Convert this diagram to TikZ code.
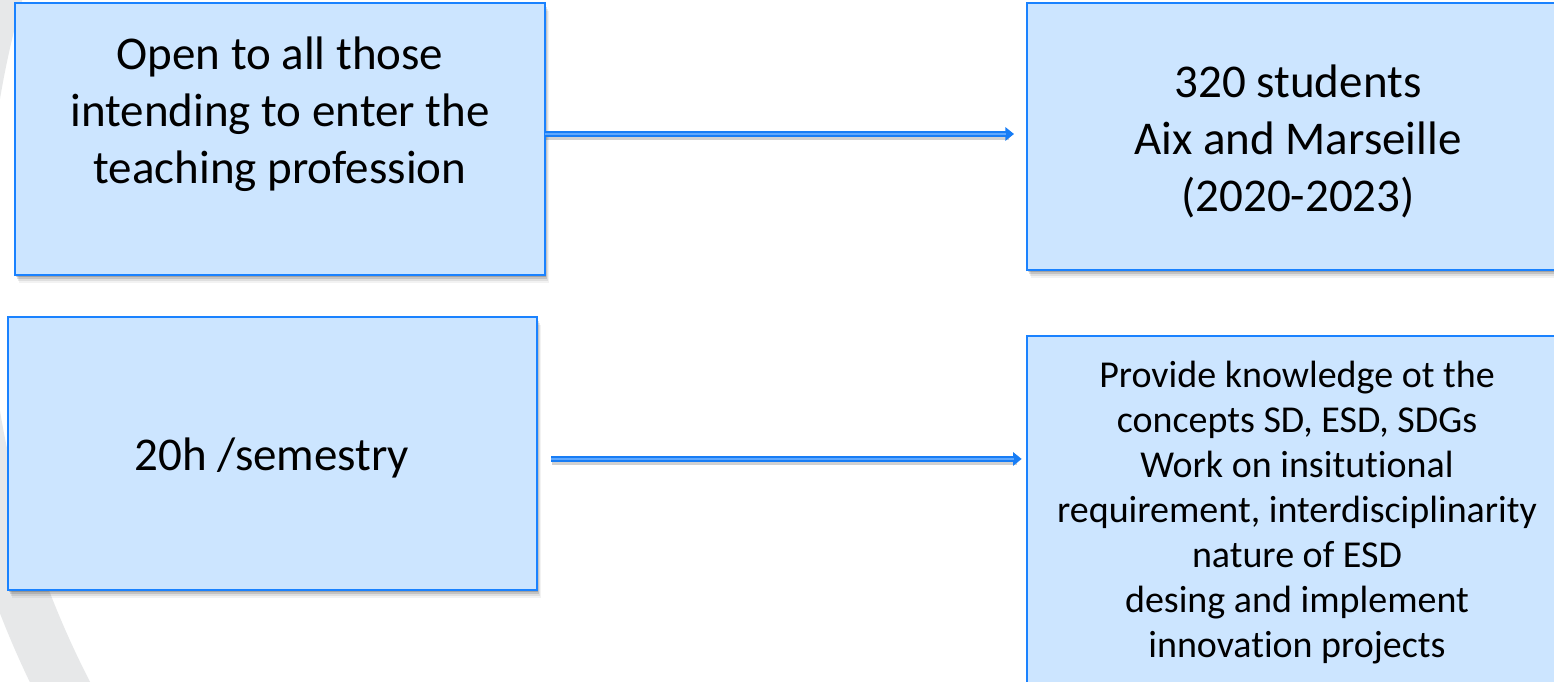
\documentclass[tikz,border=0pt]{standalone}
\usepackage{fontspec}
\setmainfont[Ligatures=NoCommon]{Carlito}
\usetikzlibrary{shadows,arrows.meta,calc}
\definecolor{boxfill}{RGB}{204,229,255}
\definecolor{boxline}{RGB}{26,130,255}
\definecolor{arrline}{RGB}{24,125,245}
\definecolor{arrinner}{RGB}{95,168,255}
\definecolor{swooshgray}{RGB}{231,232,233}
\begin{document}
\begin{tikzpicture}[x=0.75pt,y=-0.75pt,
  bluebox/.style={draw=boxline, line width=1.5pt, fill=boxfill, inner sep=0pt, outer sep=0pt,
    drop shadow={shadow xshift=0.8pt, shadow yshift=-1.5pt, opacity=0.16, fill=black},
    drop shadow={shadow xshift=1.5pt, shadow yshift=-3pt, opacity=0.12, fill=black},
    drop shadow={shadow xshift=2.2pt, shadow yshift=-4.5pt, opacity=0.08, fill=black},
    drop shadow={shadow xshift=2.8pt, shadow yshift=-6pt, opacity=0.05, fill=black}},
  bigtext/.style={align=center, inner sep=0pt, font=\fontsize{35.25}{42.75}\selectfont},
  smalltext/.style={align=center, inner sep=0pt, font=\fontsize{28.5}{33.75}\selectfont},
  arrshadow/.style={draw=black, opacity=0.18, line width=4pt, transform canvas={xshift=0.8pt, yshift=-2.4pt}},
  arrouter/.style={draw=arrline, line width=4pt, -{Triangle[length=6.5pt, width=10pt]}},
  arrinnerline/.style={draw=arrinner, line width=1.4pt}
]
\useasboundingbox (0,0) rectangle (1554,682);
\clip (0,0) rectangle (1554,682);
\fill[white] (0,0) rectangle (1554,682);
% background swoosh
\fill[swooshgray, even odd rule] (921,255) circle[radius=988] (921,255) circle[radius=934];

% boxes
\node[bluebox, minimum width=397.5pt, minimum height=204pt] (boxA) at (280,139) {};
\node[bluebox, minimum width=396.75pt, minimum height=204.75pt] (boxB) at (272.5,453.5) {};
\node[bluebox, minimum width=406.5pt, minimum height=200.25pt] (boxC) at (1298,136.5) {};
\node[bluebox, minimum width=406.5pt, minimum height=288pt] (boxD) at (1298,528) {};

% texts
\node[bigtext] (textA) at (280,114) {Open to all those\\intending to enter the\\teaching profession};
\node[bigtext] (textB) at (272,458) {20h /semestry};
\node[bigtext] (textC) at (1298,141) {320 students\\Aix and Marseille\\(2020-2023)};
\node[smalltext] (textD) at (1297,513) {Provide knowledge ot the\\concepts SD, ESD, SDGs\\Work on insitutional\\requirement, interdisciplinarity\\nature of ESD\\desing and implement\\innovation projects};

% arrows
\coordinate (a1s) at ([yshift=3.75pt]boxA.east);
\coordinate (a1e) at ([yshift=3.75pt]boxA.east -| boxC.west);
\coordinate (a2s) at ([yshift=-4.1pt]boxB.east);
\coordinate (a2e) at ([yshift=-4.1pt]boxB.east -| boxD.west);

\draw[arrshadow, shorten >=14pt] (a1s) -- (a1e);
\draw[arrouter, shorten >=9.75pt] (a1s) -- (a1e);
\draw[arrinnerline, shorten >=15.5pt] (a1s) -- (a1e);

\draw[arrshadow, shorten <=10.5pt, shorten >=8pt] (a2s) -- (a2e);
\draw[arrouter, shorten <=10.5pt, shorten >=4pt] (a2s) -- (a2e);
\draw[arrinnerline, shorten <=10.5pt, shorten >=10pt] (a2s) -- (a2e);
\end{tikzpicture}
\end{document}
